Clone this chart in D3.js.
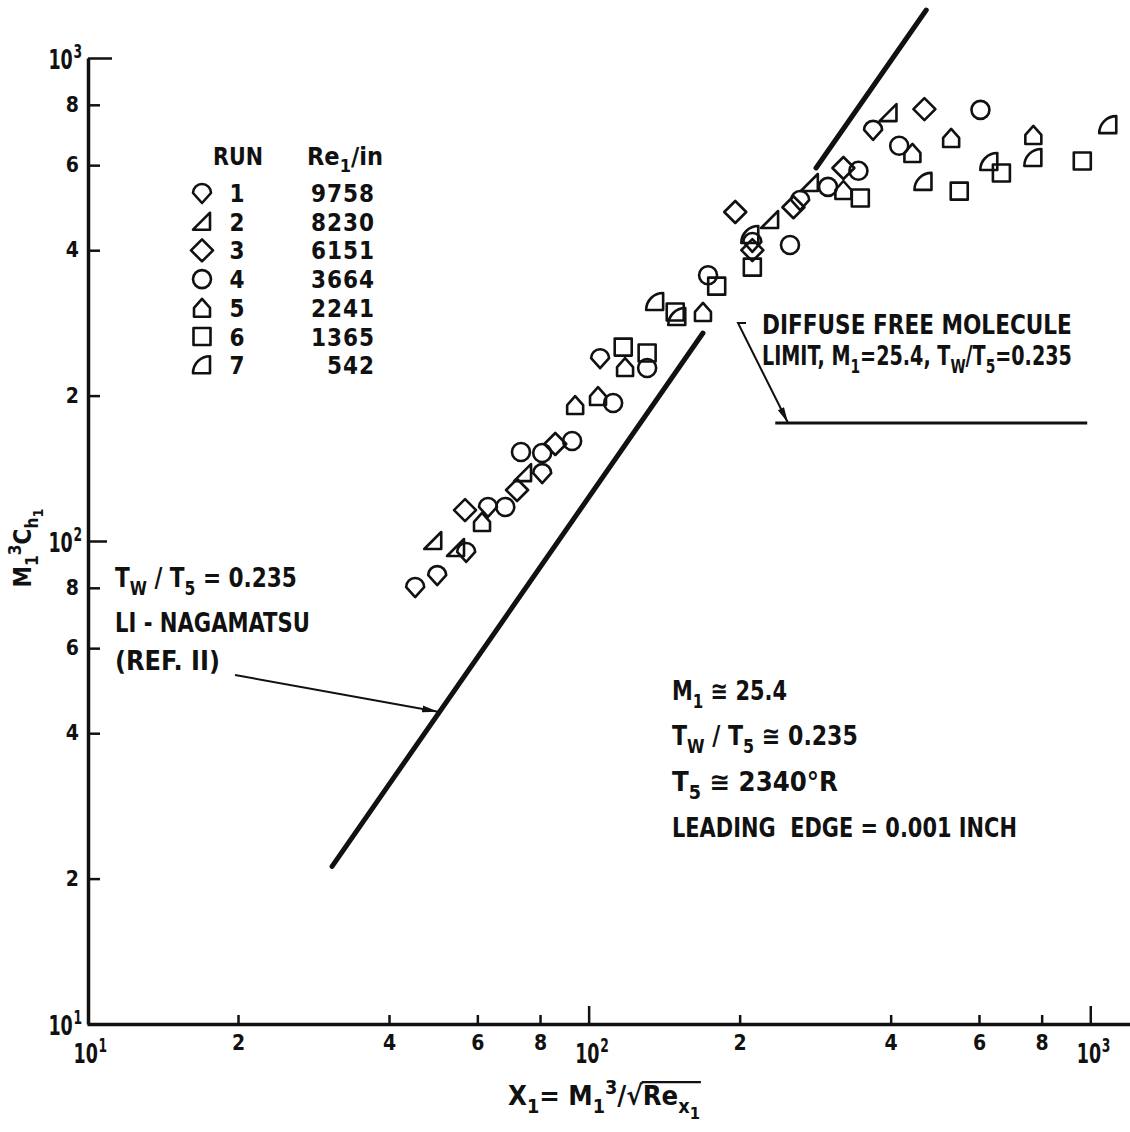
<!DOCTYPE html>
<html>
<head>
<meta charset="utf-8">
<script src="https://cdn.jsdelivr.net/npm/d3@7"></script>
<style>
  html, body { margin: 0; padding: 0; background: #fff; }
  svg { display: block; }
  text { font-family: "DejaVu Sans Condensed", "Liberation Sans Narrow", "DejaVu Sans", sans-serif; font-weight: bold; fill: #111; white-space: pre; }
</style>
</head>
<body>
<svg id="chart" width="1130" height="1132"></svg>
<script>
// ---- data: heat-transfer parameter M1^3 Ch1 against chi1, one array per run ----
const runIds = [1, 2, 3, 4, 5, 6, 7];
const runReynolds = ["9758", "8230", "6151", "3664", "2241", "1365", "542"];

const run1 = [[45.1, 80.3], [49.9, 85.0], [57.0, 94.9], [63.0, 117.6], [80.8, 138.2], [105.4, 239], [212, 416], [264, 508], [369, 710]];
const run2 = [[49.0, 100], [54.4, 96.7], [74.0, 138.2], [230, 462], [276, 551], [396, 769]];
const run3 = [[56.7, 115.9], [72.0, 127.5], [85.8, 158.8], [196, 480], [212, 400], [256, 491], [322, 592], [467, 784]];
const run4 = [[68.2, 117.6], [73.3, 152.8], [80.8, 152.1], [92.7, 161.1], [111.9, 193.1], [130.8, 228.1], [173, 355], [252, 410], [300, 541], [345, 584], [416, 658], [604, 781]];
const run5 = [[61.3, 109.5], [94.0, 191.2], [104.4, 199.6], [118.2, 229.2], [169, 298], [322, 533], [442, 636], [528, 683], [770, 693]];
const run6 = [[117.2, 252], [130.8, 245], [148.8, 298], [180, 337], [212, 369], [348, 513], [548, 530], [665, 578], [964, 612]];
const run7 = [[135.7, 312.5], [150.2, 290.9], [210, 430], [465, 554], [629, 609], [770, 621], [1086, 726]];
const runData = [run1, run2, run3, run4, run5, run6, run7];

// Li-Nagamatsu theory, drawn in two pieces either side of the data cloud
const theoryLower = [[30.8, 21.2], [169, 269.5]];
const theoryUpper = [[284, 592], [471, 1257]];
// diffuse free-molecule limit
const freeMoleculeLimit = [[235.5, 175.5], [986, 175.5]];

// axis ticks
const xTickValues = [10, 20, 40, 60, 80, 100, 200, 400, 600, 800, 1000];
const xTickLabels = ["10^1", "2", "4", "6", "8", "10^2", "2", "4", "6", "8", "10^3"];
const yTickValues = [10, 20, 40, 60, 80, 100, 200, 400, 600, 800, 1000];
const yTickLabels = ["10^1", "2", "4", "6", "8", "10^2", "2", "4", "6", "8", "10^3"];

// ---- scales ----
const svg = d3.select("#chart");
const x = d3.scaleLog().domain([10, 1200]).range([87, 1130]);
const y = d3.scaleLog().domain([10, 1000]).range([1024, 58]);

// arrowhead
svg.append("defs").append("marker")
  .attr("id", "arrow").attr("markerUnits", "userSpaceOnUse")
  .attr("markerWidth", 18).attr("markerHeight", 10)
  .attr("refX", 16).attr("refY", 4).attr("orient", "auto")
  .append("path").attr("d", "M0,0.6 L16,4 L0,7.4 Z").attr("fill", "#111");

// ---- rich text helper: [string, level] with level 0 base, -1 sub, 1 super, -2 sub-sub ----
function richText(sel, parts, size) {
  const scale = { "0": 1, "1": 0.72, "-1": 0.72, "-2": 0.6 };
  const shift = { "0": 0, "1": -0.42, "-1": 0.3, "-2": 0.52 };
  let cur = 0;
  parts.forEach(([s, lv]) => {
    const off = shift[lv] * size;
    sel.append("tspan").attr("dy", off - cur).attr("font-size", size * scale[lv]).text(s);
    cur = off;
  });
  return sel;
}
// lettered label, narrowed horizontally to the wanted run length
function label(px, py, parts, size, len) {
  const g = svg.append("g");
  const t = g.append("text").attr("x", 0).attr("y", 0).attr("font-size", size);
  richText(t, parts, size);
  const w = t.node().getComputedTextLength();
  const sx = len ? len / w : 1;
  g.attr("transform", `translate(${px},${py}) scale(${sx},1)`);
  return { g, t };
}
// power-of-ten tick label: "10" followed by a raised exponent, in narrow lettering
const decadeSqueeze = 0.72;
function decadeLabel(t, exponent, xPos) {
  t.text(null).attr("font-size", 27).attr("x", xPos / decadeSqueeze)
    .attr("transform", `scale(${decadeSqueeze},1)`);
  t.append("tspan").text("10");
  t.append("tspan").attr("dy", -11).attr("dx", 1).attr("font-size", 19).text(exponent);
}

// ---- axes ----
const xAxis = d3.axisBottom(x).tickValues(xTickValues).tickSize(-9).tickSizeOuter(0).tickPadding(11)
  .tickFormat((d, i) => xTickLabels[i]);
const gx = svg.append("g").attr("transform", "translate(0,1024)").call(xAxis);
gx.select(".domain").attr("stroke", "#111").attr("stroke-width", 3.5);
gx.selectAll(".tick line").attr("stroke", "#111").attr("stroke-width", 2.5)
  .attr("y2", (d, i) => (xTickLabels[i].startsWith("10^") ? (d === 10 ? 0 : -18) : -9));
gx.selectAll(".tick text").each(function (d, i) {
  const t = d3.select(this).attr("fill", "#111").attr("font-family", null).attr("font-weight", "bold");
  const lab = xTickLabels[i];
  if (lab.startsWith("10^")) {
    t.attr("text-anchor", "start").attr("dy", "1.05em");
    decadeLabel(t, lab.slice(3), -14);
  } else {
    t.attr("font-size", 21);
  }
});

const yAxis = d3.axisLeft(y).tickValues(yTickValues).tickSize(-12).tickSizeOuter(0).tickPadding(8)
  .tickFormat((d, i) => yTickLabels[i]);
const gy = svg.append("g").attr("transform", "translate(88,0)").call(yAxis);
gy.select(".domain").attr("stroke", "#111").attr("stroke-width", 3.5);
gy.selectAll(".tick line").attr("stroke", "#111").attr("stroke-width", 2.5)
  .attr("x2", d => (d === 1000 ? 24 : d === 100 ? 19 : d === 10 ? 0 : 12));
gy.selectAll(".tick text").each(function (d, i) {
  const t = d3.select(this).attr("fill", "#111").attr("font-family", null).attr("font-weight", "bold");
  const lab = yTickLabels[i];
  if (lab.startsWith("10^")) {
    t.attr("text-anchor", "end").attr("dy", "0.38em");
    decadeLabel(t, lab.slice(3), -6);
  } else {
    t.attr("font-size", 21).attr("x", -9);
  }
});

// ---- theory lines ----
const line = d3.line().x(d => x(d[0])).y(d => y(d[1]));
[theoryLower, theoryUpper].forEach(seg => {
  svg.append("path").attr("d", line(seg)).attr("fill", "none")
    .attr("stroke", "#111").attr("stroke-width", 5).attr("stroke-linecap", "round");
});
svg.append("path").attr("d", line(freeMoleculeLimit)).attr("fill", "none")
  .attr("stroke", "#111").attr("stroke-width", 3);

// ---- symbols ----
const shapes = {
  1: "M-9,0A9,9 0 0 1 9,0L0,10Z",
  2: "M-9,8L8,8L8,-9Z",
  3: "M0,-11L11,0L0,11L-11,0Z",
  4: "M-9,0A9,9 0 1 1 9,0A9,9 0 1 1 -9,0Z",
  5: "M-8,9L8,9L8,0L0,-9L-8,0Z",
  6: "M-8.5,-8.5H8.5V8.5H-8.5Z",
  7: "M8,8H-9A17,17 0 0 1 8,-9Z"
};
runData.forEach((pts, k) => {
  svg.append("g").selectAll("path").data(pts).join("path")
    .attr("d", shapes[runIds[k]])
    .attr("transform", d => `translate(${x(d[0])},${y(d[1])})`)
    .attr("fill", "none").attr("stroke", "#111").attr("stroke-width", 2.6)
    .attr("stroke-linejoin", "round");
});

// ---- legend ----
label(213, 165, [["RUN", 0]], 24, 50);
label(307, 165, [["Re", 0], ["1", -1], ["/in", 0]], 24, 76);
runIds.forEach((r, i) => {
  const cy = 193 + i * 28.7;
  svg.append("path").attr("d", shapes[r]).attr("transform", `translate(202,${cy})`)
    .attr("fill", "none").attr("stroke", "#111").attr("stroke-width", 2.6).attr("stroke-linejoin", "round");
  svg.append("text").attr("x", 237).attr("y", cy + 9).attr("font-size", 24).attr("text-anchor", "middle").text(r);
  svg.append("text").attr("x", 375).attr("y", cy + 9).attr("font-size", 24).attr("text-anchor", "end")
    .attr("letter-spacing", 1).text(runReynolds[i]);
});

// ---- annotations ----
label(762, 334, [["DIFFUSE FREE MOLECULE", 0]], 26, 310);
label(762, 365, [["LIMIT, M", 0], ["1", -1], ["=25.4, T", 0], ["W", -1], ["/T", 0], ["5", -1], ["=0.235", 0]], 26, 310);
svg.append("path")
  .attr("d", `M746,323 L738,323 L${x(249.8)},${y(175.5)}`)
  .attr("fill", "none").attr("stroke", "#111").attr("stroke-width", 2).attr("marker-end", "url(#arrow)");

label(115, 587, [["T", 0], ["W", -1], [" / T", 0], ["5", -1], [" = 0.235", 0]], 26, 182);
label(115, 632, [["LI - NAGAMATSU", 0]], 26, 195);
label(115, 670, [["(REF. II)", 0]], 26, 105);
svg.append("path")
  .attr("d", `M235,675 L${x(50.1)},${y(44.3)}`)
  .attr("fill", "none").attr("stroke", "#111").attr("stroke-width", 2).attr("marker-end", "url(#arrow)");

label(672, 700, [["M", 0], ["1", -1], [" \u2245 25.4", 0]], 26, 115);
label(672, 745, [["T", 0], ["W", -1], [" / T", 0], ["5", -1], [" \u2245 0.235", 0]], 26, 186);
label(672, 791, [["T", 0], ["5", -1], [" \u2245 2340\u00b0R", 0]], 26, 166);
label(672, 837, [["LEADING  EDGE = 0.001 INCH", 0]], 26, 345);

// ---- axis titles ----
const xt = label(508, 1105, [["\u03a7", 0], ["1", -1], ["= M", 0], ["1", -1], ["3", 1], ["/\u221a", 0], ["Re", 0], ["x", -1], ["1", -2]], 27, 192);
(function () {
  const node = xt.t.node();
  const k = node.textContent.indexOf("\u221a");
  const e = node.getExtentOfChar(k);
  const bb = node.getBBox();
  xt.g.append("line").attr("x1", e.x + e.width - 1).attr("x2", bb.x + bb.width + 1)
    .attr("y1", e.y + 2).attr("y2", e.y + 2).attr("stroke", "#111").attr("stroke-width", 2.2);
})();

const yt = svg.append("text").attr("transform", "translate(31,548) rotate(-90)")
  .attr("text-anchor", "middle").attr("font-size", 24);
richText(yt, [["M", 0], ["1", -1], ["3", 1], ["C", 0], ["h", -1], ["1", -2]], 24);
</script>
</body>
</html>
